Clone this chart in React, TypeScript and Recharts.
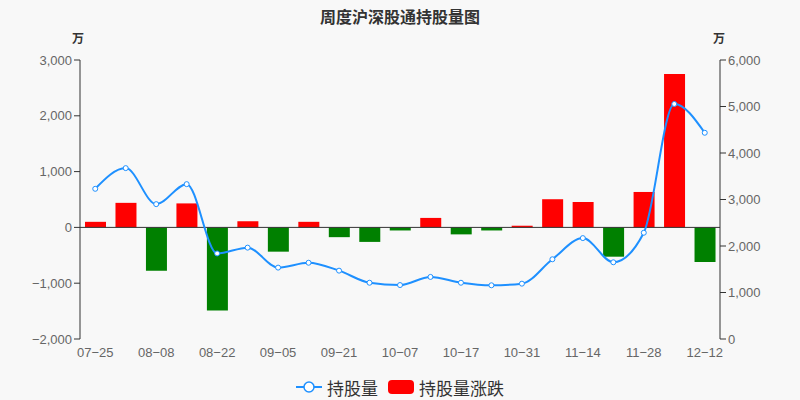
import React from "react";
import {
  ComposedChart,
  Bar,
  Line,
  Cell,
  XAxis,
  YAxis,
  ReferenceLine,
  Legend,
} from "recharts";

const weeks = [
  "07-25", "08-01", "08-08", "08-15", "08-22", "08-29", "09-05",
  "09-12", "09-21", "09-28", "10-07", "10-10", "10-17", "10-24",
  "10-31", "11-07", "11-14", "11-21", "11-28", "12-05", "12-12",
];
// 持股量 (万)
const holdings = [
  3230, 3675, 2900, 3330, 1840, 1965, 1535,
  1640, 1470, 1210, 1160, 1335, 1210, 1155,
  1190, 1715, 2170, 1650, 2285, 5055, 4435,
];
// 持股量涨跌 (万)
const changes = [
  100, 440, -775, 430, -1490, 110, -435,
  100, -175, -260, -55, 170, -125, -55,
  30, 505, 455, -525, 635, 2750, -620,
];

const leftTicks = [-2000, -1000, 0, 1000, 2000, 3000];
const rightTicks = [0, 1000, 2000, 3000, 4000, 5000, 6000];

const data = weeks.map((w, i) => ({
  week: w,
  holding: holdings[i],
  change: changes[i],
}));

const FONT = "'Liberation Sans', 'Noto Sans CJK SC', sans-serif";
const BLUE = "#1e90ff";

const fmt = (v: number) => v.toLocaleString("en-US").replace("-", "\u2212");

function LegendBox() {
  return (
    <div
      style={{
        display: "flex",
        justifyContent: "center",
        alignItems: "center",
        fontFamily: FONT,
        fontSize: 17,
        color: "#333",
        height: 24,
      }}
    >
      <svg width={26} height={14} style={{ marginRight: 5 }}>
        <line x1={0} y1={7} x2={26} y2={7} stroke={BLUE} strokeWidth={2} />
        <circle cx={13} cy={7} r={5} fill="#fff" stroke={BLUE} strokeWidth={1.5} />
      </svg>
      <span style={{ marginRight: 10 }}>持股量</span>
      <svg width={26} height={14} style={{ marginRight: 5 }}>
        <rect x={0} y={0} width={26} height={14} rx={4} fill="#ff0000" />
      </svg>
      <span>持股量涨跌</span>
    </div>
  );
}

export default function App() {
  return (
    <div
      style={{
        position: "absolute",
        left: 0,
        top: 0,
        width: 800,
        height: 400,
        background: "#f8f8f8",
        fontFamily: FONT,
      }}
    >
      <div
        style={{
          position: "absolute",
          top: 4,
          width: 800,
          textAlign: "center",
          fontSize: 16,
          fontWeight: "bold",
          color: "#333",
        }}
      >
        周度沪深股通持股量图
      </div>
      <div style={{ position: "absolute", left: 72, top: 29, fontSize: 12, fontWeight: "bold", color: "#333" }}>万</div>
      <div style={{ position: "absolute", left: 713, top: 29, fontSize: 12, fontWeight: "bold", color: "#333" }}>万</div>
      <ComposedChart
        width={800}
        height={400}
        data={data}
        margin={{ top: 60, right: 20, bottom: 11, left: 20 }}
      >
        <XAxis
          dataKey="week"
          interval={1}
          axisLine={false}
          tickLine={false}
          tickSize={5}
          tickMargin={4}
          height={26}
          tick={{ fill: "#666", fontSize: 13 }}
          tickFormatter={(v: string) => v.replace("-", "\u2212")}
        />
        <YAxis
          yAxisId="left"
          domain={[-2000, 3000]}
          ticks={leftTicks}
          width={60}
          axisLine={{ stroke: "#333" }}
          tickLine={{ stroke: "#333" }}
          tickSize={6}
          tick={{ fill: "#666", fontSize: 13 }}
          tickFormatter={fmt}
          allowDataOverflow
        />
        <YAxis
          yAxisId="right"
          orientation="right"
          domain={[0, 6000]}
          ticks={rightTicks}
          width={60}
          axisLine={{ stroke: "#333" }}
          tickLine={{ stroke: "#333" }}
          tickSize={6}
          tick={{ fill: "#666", fontSize: 13 }}
          tickFormatter={fmt}
        />
        <ReferenceLine yAxisId="left" y={0} stroke="#333" />
        <Bar yAxisId="left" dataKey="change" name="持股量涨跌" barSize={21} isAnimationActive={false}>
          {data.map((d, i) => (
            <Cell key={i} fill={d.change >= 0 ? "#ff0000" : "#008000"} />
          ))}
        </Bar>
        <Line
          yAxisId="right"
          dataKey="holding"
          name="持股量"
          type="monotone"
          stroke={BLUE}
          strokeWidth={2}
          dot={{ r: 2.5, fill: "#fff", stroke: BLUE, strokeWidth: 1 }}
          isAnimationActive={false}
        />
        <Legend verticalAlign="bottom" wrapperStyle={{ bottom: 1 }} content={() => <LegendBox />} />
      </ComposedChart>
    </div>
  );
}
